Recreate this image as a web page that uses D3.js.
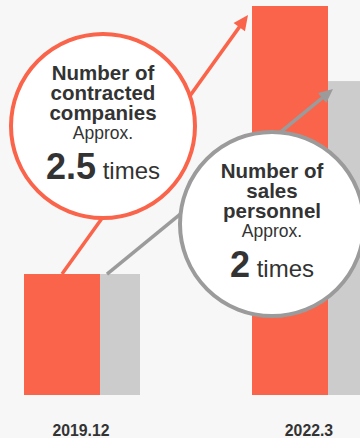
<!DOCTYPE html>
<html>
<head>
<meta charset="utf-8">
<script src="https://cdn.jsdelivr.net/npm/d3@7"></script>
<style>
  html, body { margin: 0; padding: 0; background: #f7f7f7; }
  svg { display: block; }
  text { font-family: "Liberation Sans", Arial, Helvetica, sans-serif; fill: #333; }
</style>
</head>
<body>
<svg id="chart" width="360" height="438"></svg>
<script>
// ---- data ----
const categories = ["2019.12", "2022.3"];
const contractedCompanies = [31.1, 100];   // index, 2022.3 = 100
const salesPersonnel = [31.1, 80.7];
const seriesNames = ["contracted", "sales"];
const bubbleTitles = [["Number of", "contracted", "companies"], ["Number of", "sales", "personnel"]];
const approxLabel = "Approx.";
const multipliers = ["2.5", "2"];
const timesLabel = "times";

// ---- setup ----
const W = 360, H = 438;
const orange = "#fa644a", grayBar = "#cccccc", grayLine = "#9b9b9b";
const svg = d3.select("#chart");
svg.append("rect").attr("width", W).attr("height", H).attr("fill", "#f7f7f7");

const x = d3.scaleBand().domain(categories).range([24, 368]).paddingInner(112 / 228).paddingOuter(0);
const y = d3.scaleLinear().domain([0, 100]).range([395, 6]);
const bw = x.bandwidth() * 76 / 116;           // bar width
const sub = d3.scaleOrdinal().domain(seriesNames).range([0, x.bandwidth() - bw]);

const rows = categories.map((c, i) => ({ cat: c, contracted: contractedCompanies[i], sales: salesPersonnel[i] }));

// gray (sales) bars behind
svg.append("g").selectAll("rect").data(rows).join("rect")
  .attr("x", d => x(d.cat) + sub("sales"))
  .attr("y", d => y(d.sales))
  .attr("width", bw)
  .attr("height", d => y(0) - y(d.sales))
  .attr("fill", grayBar);
// orange (contracted) bars in front
svg.append("g").selectAll("rect").data(rows).join("rect")
  .attr("x", d => x(d.cat) + sub("contracted"))
  .attr("y", d => y(d.contracted))
  .attr("width", bw)
  .attr("height", d => y(0) - y(d.contracted))
  .attr("fill", orange);

// category labels
svg.append("g").selectAll("text").data(categories).join("text")
  .attr("x", d => x(d) + x.bandwidth() / 2 - 1)
  .attr("y", 436)
  .attr("text-anchor", "middle")
  .attr("font-size", 15.8)
  .attr("font-weight", "bold")
  .text(d => d);

// arrows
function arrow(x1, y1, x2, y2, color, w, headL, headW) {
  const ang = Math.atan2(y2 - y1, x2 - x1);
  const bx = x2 - headL * Math.cos(ang), by = y2 - headL * Math.sin(ang);
  svg.append("line").attr("x1", x1).attr("y1", y1).attr("x2", bx + Math.cos(ang)).attr("y2", by + Math.sin(ang))
    .attr("stroke", color).attr("stroke-width", w);
  const px = -Math.sin(ang) * headW / 2, py = Math.cos(ang) * headW / 2;
  svg.append("path").attr("d", `M${x2},${y2}L${bx + px},${by + py}L${bx - px},${by - py}Z`).attr("fill", color);
}
const c0 = categories[0], c1 = categories[1];
arrow(x(c0) + sub("contracted") + bw / 2, y(contractedCompanies[0]),
      x(c1) + sub("contracted") - 4, y(contractedCompanies[1]) + 9, orange, 3.5, 15, 14);
arrow(x(c0) + sub("sales") + 43, y(salesPersonnel[0]),
      x(c1) + sub("sales") + 41, y(salesPersonnel[1]) + 8, grayLine, 3.5, 14, 13);

// bubbles
const bubbles = [
  { cx: 103, cy: 126, color: orange },
  { cx: 272, cy: 224, color: grayLine }
];
bubbles.forEach((b, i) => {
  const g = svg.append("g").attr("transform", `translate(${b.cx},${b.cy})`);
  g.append("circle").attr("r", 92).attr("fill", "#fff").attr("stroke", b.color).attr("stroke-width", 4);
  const title = g.append("text").attr("text-anchor", "middle")
    .attr("font-size", 20.5).attr("font-weight", "bold");
  bubbleTitles[i].forEach((t, j) => {
    title.append("tspan").attr("x", 0).attr("y", -46 + j * 19.8).text(t);
  });
  g.append("text").attr("x", 0).attr("y", 13).attr("text-anchor", "middle")
    .attr("font-size", 17.5).text(approxLabel);
  const big = g.append("text").attr("x", 0).attr("y", 53).attr("text-anchor", "middle");
  big.append("tspan").attr("font-size", 36).attr("font-weight", "bold").text(multipliers[i]);
  big.append("tspan").attr("font-size", 24).text(" " + timesLabel);
});
</script>
</body>
</html>
